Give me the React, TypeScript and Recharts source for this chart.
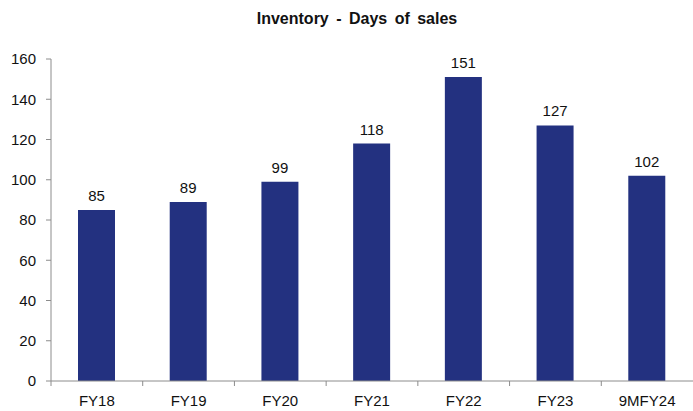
import { BarChart, Bar, XAxis, YAxis, LabelList } from 'recharts';

const categories = ['FY18', 'FY19', 'FY20', 'FY21', 'FY22', 'FY23', '9MFY24'];
const daysOfSales = [85, 89, 99, 118, 151, 127, 102];
const yTicks = [0, 20, 40, 60, 80, 100, 120, 140, 160];

const chartData = categories.map((name, i) => ({ name, days: daysOfSales[i] }));

const font = '"Liberation Sans", Arial, sans-serif';
const axisGrey = '#8c8c8c';
const TICK_SIZE = 5;
const TICK_MARGIN = 9;

// category label plus a tick mark on the boundary left of each category
function CategoryTick(props: any) {
    const { x, y, payload, width, visibleTicksCount } = props;
    const band = width / visibleTicksCount;
    const axisY = y - TICK_SIZE - TICK_MARGIN;
    return (
        <g>
            <line x1={x - band / 2} x2={x - band / 2} y1={axisY} y2={axisY + TICK_SIZE} stroke={axisGrey} />
            <text x={x} y={y} dy="0.71em" textAnchor="middle" fontSize={15} fill="#111" fontFamily={font}>
                {payload.value}
            </text>
        </g>
    );
}

export default function App() {
    return (
        <div style={{ position: 'absolute', left: 0, top: 0, width: 693, height: 411, background: '#fff', fontFamily: font }}>
            <div
                style={{
                    position: 'absolute',
                    top: 10,
                    left: 237,
                    width: 240,
                    textAlign: 'center',
                    fontSize: 16,
                    fontWeight: 'bold',
                    wordSpacing: 3,
                    color: '#111',
                    whiteSpace: 'nowrap',
                }}
            >
                Inventory - Days of sales
            </div>
            <BarChart width={693} height={411} data={chartData} margin={{ top: 59, right: 0, left: 0, bottom: 0 }}>
                <XAxis
                    dataKey="name"
                    height={30}
                    axisLine={{ stroke: axisGrey }}
                    tickLine={false}
                    tickSize={TICK_SIZE}
                    tickMargin={TICK_MARGIN}
                    tick={<CategoryTick />}
                    interval={0}
                />
                <YAxis
                    width={51}
                    domain={[0, 160]}
                    ticks={yTicks}
                    tickSize={5}
                    tickMargin={10}
                    tick={{ fontSize: 15, fill: '#111', fontFamily: font }}
                    tickLine={{ stroke: axisGrey }}
                    axisLine={{ stroke: axisGrey }}
                />
                <Bar dataKey="days" fill="#233180" barSize={37} isAnimationActive={false}>
                    <LabelList dataKey="days" position="top" offset={9} style={{ fontSize: 15, fill: '#111', fontFamily: font }} />
                </Bar>
            </BarChart>
        </div>
    );
}
